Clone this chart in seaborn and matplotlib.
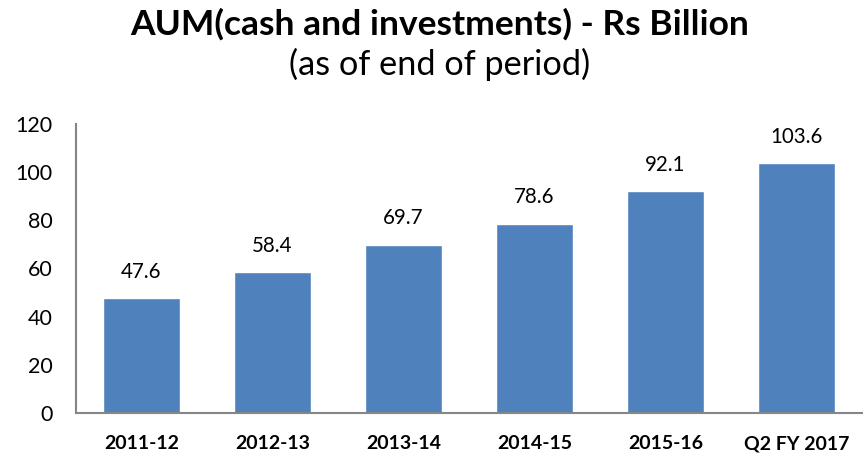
import matplotlib
matplotlib.use("Agg")
import matplotlib.pyplot as plt
import seaborn as sns
import pandas as pd

# Données
periods = ["2011-12", "2012-13", "2013-14", "2014-15", "2015-16", "Q2 FY 2017"]
aum_values = [47.6, 58.4, 69.7, 78.6, 92.1, 103.6]
y_ticks = [0, 20, 40, 60, 80, 100, 120]

sns.set_style("white")
plt.rcParams["font.family"] = ["Lato", "DejaVu Sans"]
plt.rcParams["text.color"] = "black"
plt.rcParams["xtick.color"] = "black"
plt.rcParams["ytick.color"] = "black"

df = pd.DataFrame({"period": periods, "aum": aum_values})

fig = plt.figure(figsize=(8.63, 4.57), dpi=100)
ax = fig.add_axes([76 / 863, 1 - 413 / 457, 786 / 863, 289 / 457])

sns.barplot(data=df, x="period", y="aum", color="#4F81BD", saturation=1,
            width=0.59, ax=ax)

for i, v in enumerate(aum_values):
    ax.annotate(f"{v:.1f}", (i, v), xytext=(0, 12), textcoords="offset points",
                ha="center", va="bottom", fontsize=14.8, color="black")

ax.set_ylim(0, 120)
ax.set_xlim(-0.5, len(periods) - 0.5)
ax.set_yticks(y_ticks)
ax.set_yticklabels([str(t) for t in y_ticks], fontsize=15.5)
ax.tick_params(axis="y", length=0, pad=17, labelcolor="black")
ax.tick_params(axis="x", length=0, pad=16, labelcolor="black")
for lab in ax.get_xticklabels():
    lab.set_fontweight("bold")
    lab.set_fontsize(14)
ax.set_xlabel("")
ax.set_ylabel("")

for side in ["top", "right"]:
    ax.spines[side].set_visible(False)
for side in ["left", "bottom"]:
    ax.spines[side].set_color("#868686")
    ax.spines[side].set_linewidth(1.5)

fig.text(440 / 863, 1 - 35 / 457, "AUM(cash and investments) - Rs Billion",
         ha="center", va="baseline", fontsize=25.5, fontweight="bold", color="black")
fig.text(440 / 863, 1 - 75 / 457, "(as of end of period)",
         ha="center", va="baseline", fontsize=24.7, color="black")

fig.savefig("out.png", dpi=100)
plt.close()
